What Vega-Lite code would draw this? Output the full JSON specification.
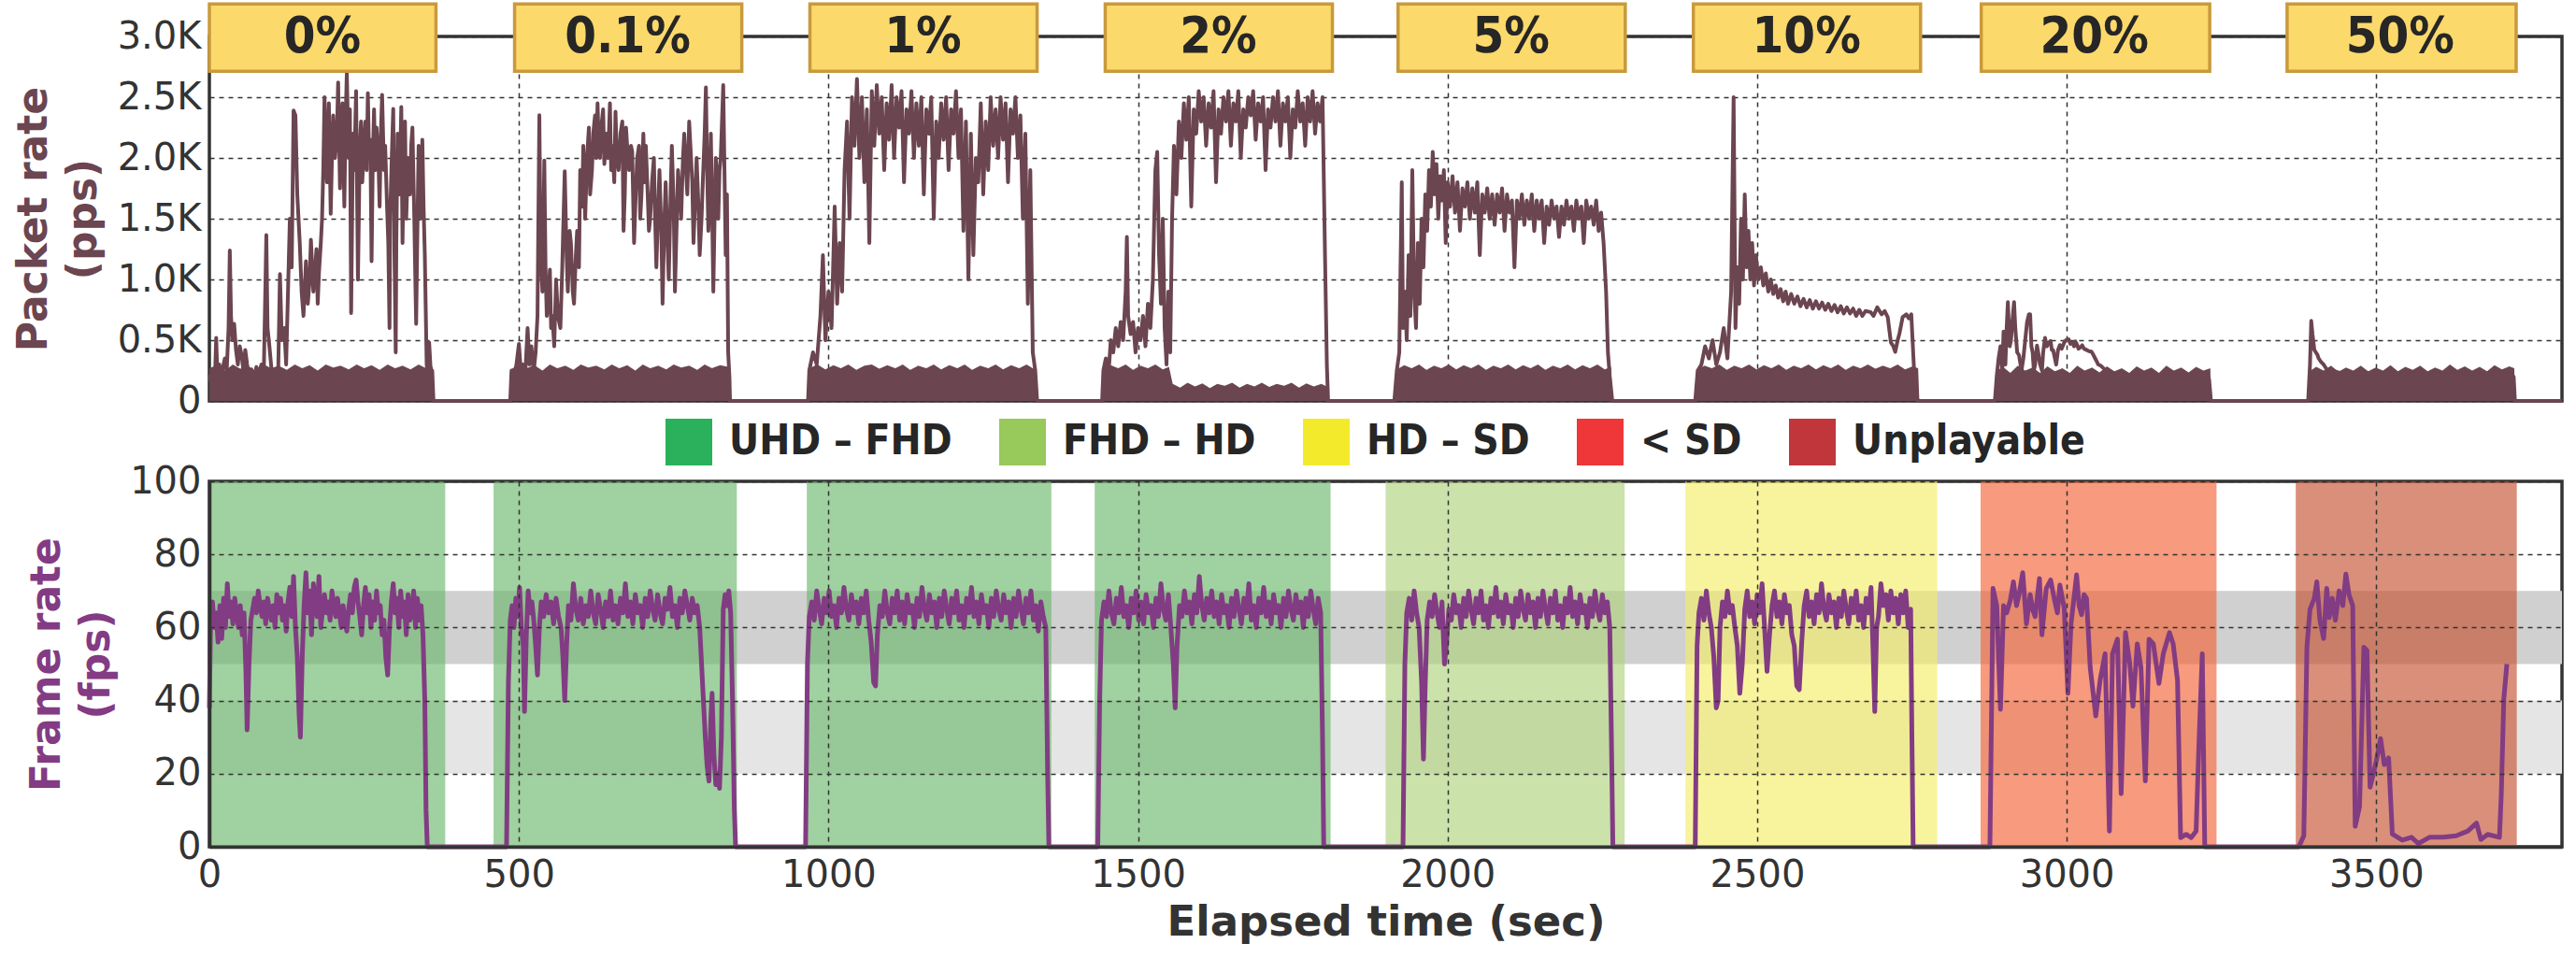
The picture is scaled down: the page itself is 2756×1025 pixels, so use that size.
{
"$schema":"https://vega.github.io/schema/vega-lite/v6.json",
"padding":{"left":12,"top":0,"right":5,"bottom":5},
"background":"white",
"config":{
"view":{"stroke":"#333333","strokeWidth":3.5},
"font":"DejaVu Sans",
"axis":{"labelFont":"DejaVu Sans","labelFontSize":40,"labelColor":"#333333","ticks":false,"domain":false,"gridColor":"#333333","gridDash":[5,5],"gridWidth":1.5,"gridOpacity":1,"titleFont":"DejaVu Sans","titleFontWeight":"bold","titleFontSize":44,"labelFlush":false,"labelOverlap":false}
},
"spacing":86,
"bounds":"flush",
"vconcat":[
{"width":2517,"height":390,
"layer":[
{"data":{"name":"lo"},"mark":{"type":"area","color":"#6b4550"},
"encoding":{"x":{"field":"t","type":"quantitative","scale":{"domain":[0,3800],"nice":false},"axis":{"values":[500,1000,1500,2000,2500,3000,3500],"labels":false,"title":null,"grid":true}},
"y":{"field":"v","type":"quantitative","scale":{"domain":[0,3000],"nice":false},"axis":{"values":[0,500,1000,1500,2000,2500,3000],"labelExpr":"datum.value == 0 ? '0' : format(datum.value/1000, '.1f') + 'K'","title":["Packet rate","(pps)"],"titleColor":"#6b4550","titleX":-188,"titleY":195,"titleAngle":-90,"titleAlign":"center","titleBaseline":"middle","titleLineHeight":53,"labelPadding":9,"grid":true}}}},
{"data":{"name":"hi"},"mark":{"type":"line","color":"#6b4550","strokeWidth":4,"strokeJoin":"round"},
"encoding":{"x":{"field":"t","type":"quantitative"},"y":{"field":"v","type":"quantitative"}}},
{"data":{"name":"box"},"mark":{"type":"rect","fill":"#fcd96b","stroke":"#c99a3c","strokeWidth":3.5},
"encoding":{"x":{"field":"a","type":"quantitative"},"x2":{"field":"b"},"y":{"datum":2713},"y2":{"datum":3267}}},
{"data":{"name":"box"},"mark":{"type":"text","font":"'Liberation Sans Narrow', 'DejaVu Sans Condensed', sans-serif","fontWeight":"bold","fontSize":54,"color":"#262626","dx":121,"baseline":"middle","align":"center"},
"encoding":{"x":{"field":"a","type":"quantitative"},"y":{"datum":2990},"text":{"field":"lbl"}}}
]},
{"width":2517,"height":391,
"layer":[
{"data":{"name":"band"},"transform":[{"filter":"datum.k == 'dark'"}],"mark":{"type":"rect","color":"#d0d0d0"},
"encoding":{"y":{"field":"y1","type":"quantitative","scale":{"domain":[0,100],"nice":false},"axis":{"values":[0,20,40,60,80,100],"title":["Frame rate","(fps)"],"titleColor":"#833b83","titleX":-174,"titleY":195.5,"titleAngle":-90,"titleAlign":"center","titleBaseline":"middle","titleLineHeight":53,"labelPadding":9,"grid":true,"zindex":1,"domain":true,"domainColor":"#333333","domainWidth":3.5}},
"y2":{"field":"y2"}}},
{"data":{"name":"band"},"transform":[{"filter":"datum.k == 'light'"}],"mark":{"type":"rect","color":"#e5e5e5"},
"encoding":{"y":{"field":"y1","type":"quantitative"},"y2":{"field":"y2"}}},
{"data":{"name":"q"},"mark":{"type":"rect","opacity":0.64},
"encoding":{"x":{"field":"a","type":"quantitative","scale":{"domain":[0,3800],"nice":false},"axis":{"values":[0,500,1000,1500,2000,2500,3000,3500],"format":"d","title":"Elapsed time (sec)","titleFontSize":45,"titleColor":"#333333","titlePadding":8,"labelPadding":10,"grid":true,"zindex":1,"domain":true,"domainColor":"#333333","domainWidth":3.5}},
"x2":{"field":"b"},
"fill":{"field":"q","type":"nominal","scale":{"domain":["Unplayable","< SD","HD – SD","FHD – HD","UHD – FHD"],"range":["#c4502f","#f36135","#f4ee67","#add27c","#6bb76b"]},"legend":null}}},
{"data":{"name":"q"},"mark":{"type":"rect","opacity":0},
"encoding":{"x":{"field":"a","type":"quantitative"},"x2":{"field":"b"},
"color":{"field":"q","type":"nominal","scale":{"domain":["UHD – FHD","FHD – HD","HD – SD","< SD","Unplayable"],"range":["#2bb15b","#98c95b","#f3ea2c","#ef3638","#c0363b"]},
"legend":{"orient":"none","legendX":488,"legendY":409,"direction":"horizontal","title":null,"symbolType":"square","symbolSize":2500,"symbolStrokeWidth":0,"symbolOpacity":1,"labelFont":"'Liberation Sans Narrow', 'DejaVu Sans Condensed', sans-serif","labelFontWeight":"bold","labelFontSize":44,"labelColor":"#262626","labelOffset":18,"columnPadding":50,"labelLimit":500}}}},
{"data":{"name":"fr"},"mark":{"type":"line","color":"#823c83","strokeWidth":5,"strokeJoin":"round"},
"encoding":{"x":{"field":"t","type":"quantitative"},"y":{"field":"v","type":"quantitative"}}}
]}
],
"datasets":{
"band":[{"y1":50,"y2":70,"k":"dark"},{"y1":20,"y2":40,"k":"light"}],
"q":[{"a":0,"b":381,"q":"UHD – FHD"},{"a":459,"b":852,"q":"UHD – FHD"},{"a":965,"b":1360,"q":"UHD – FHD"},{"a":1430,"b":1811,"q":"UHD – FHD"},{"a":1900,"b":2286,"q":"FHD – HD"},{"a":2384,"b":2791,"q":"HD – SD"},{"a":2861,"b":3242,"q":"< SD"},{"a":3370,"b":3727,"q":"Unplayable"}],
"box":[{"a":0,"b":366,"lbl":"0%"},{"a":493,"b":860,"lbl":"0.1%"},{"a":970,"b":1337,"lbl":"1%"},{"a":1447,"b":1814,"lbl":"2%"},{"a":1920,"b":2287,"lbl":"5%"},{"a":2397,"b":2764,"lbl":"10%"},{"a":2862,"b":3231,"lbl":"20%"},{"a":3356,"b":3726,"lbl":"50%"}],
"lo":[
{"t":0,"v":270},{"t":12,"v":295},{"t":25,"v":250},{"t":38,"v":300},{"t":50,"v":265},{"t":62,"v":290},{"t":75,"v":245},{"t":88,"v":300},{"t":100,"v":270},{"t":112,"v":290},{"t":125,"v":255},{"t":138,"v":300},{"t":150,"v":270},{"t":162,"v":295},{"t":175,"v":250},{"t":188,"v":300},{"t":200,"v":275},{"t":212,"v":290},{"t":225,"v":260},{"t":238,"v":300},{"t":250,"v":270},{"t":262,"v":295},{"t":275,"v":255},{"t":288,"v":300},{"t":300,"v":270},{"t":312,"v":290},{"t":325,"v":260},{"t":338,"v":300},{"t":350,"v":270},{"t":361,"v":280},{"t":362,"v":0},
{"t":486,"v":0},{"t":487,"v":260},{"t":500,"v":300},{"t":512,"v":270},{"t":525,"v":295},{"t":538,"v":250},{"t":550,"v":300},{"t":562,"v":270},{"t":575,"v":290},{"t":588,"v":255},{"t":600,"v":300},{"t":612,"v":275},{"t":625,"v":290},{"t":638,"v":260},{"t":650,"v":300},{"t":662,"v":270},{"t":675,"v":295},{"t":688,"v":250},{"t":700,"v":300},{"t":712,"v":270},{"t":725,"v":290},{"t":738,"v":260},{"t":750,"v":300},{"t":762,"v":275},{"t":775,"v":290},{"t":788,"v":255},{"t":800,"v":300},{"t":812,"v":270},{"t":825,"v":295},{"t":838,"v":280},{"t":840,"v":0},
{"t":968,"v":0},{"t":969,"v":270},{"t":982,"v":300},{"t":995,"v":260},{"t":1008,"v":295},{"t":1020,"v":270},{"t":1032,"v":300},{"t":1045,"v":255},{"t":1058,"v":290},{"t":1070,"v":300},{"t":1082,"v":265},{"t":1095,"v":295},{"t":1108,"v":270},{"t":1120,"v":300},{"t":1132,"v":255},{"t":1145,"v":290},{"t":1158,"v":270},{"t":1170,"v":300},{"t":1182,"v":260},{"t":1195,"v":295},{"t":1208,"v":270},{"t":1220,"v":300},{"t":1232,"v":255},{"t":1245,"v":290},{"t":1258,"v":270},{"t":1270,"v":300},{"t":1282,"v":260},{"t":1295,"v":295},{"t":1308,"v":270},{"t":1320,"v":300},{"t":1333,"v":260},{"t":1336,"v":0},
{"t":1443,"v":0},{"t":1444,"v":260},{"t":1456,"v":295},{"t":1468,"v":270},{"t":1480,"v":300},{"t":1492,"v":255},{"t":1504,"v":290},{"t":1516,"v":270},{"t":1528,"v":300},{"t":1540,"v":260},{"t":1550,"v":280},{"t":1556,"v":140},{"t":1568,"v":110},{"t":1580,"v":150},{"t":1592,"v":120},{"t":1604,"v":145},{"t":1616,"v":105},{"t":1628,"v":140},{"t":1640,"v":125},{"t":1652,"v":150},{"t":1664,"v":110},{"t":1676,"v":140},{"t":1688,"v":120},{"t":1700,"v":150},{"t":1712,"v":115},{"t":1724,"v":140},{"t":1736,"v":125},{"t":1748,"v":150},{"t":1760,"v":110},{"t":1772,"v":145},{"t":1784,"v":120},{"t":1796,"v":140},{"t":1805,"v":120},{"t":1806,"v":0},
{"t":1917,"v":0},{"t":1918,"v":260},{"t":1930,"v":295},{"t":1942,"v":270},{"t":1954,"v":300},{"t":1966,"v":255},{"t":1978,"v":290},{"t":1990,"v":270},{"t":2002,"v":300},{"t":2014,"v":260},{"t":2026,"v":295},{"t":2038,"v":270},{"t":2050,"v":300},{"t":2062,"v":255},{"t":2074,"v":290},{"t":2086,"v":270},{"t":2098,"v":300},{"t":2110,"v":260},{"t":2122,"v":295},{"t":2134,"v":270},{"t":2146,"v":300},{"t":2158,"v":255},{"t":2170,"v":290},{"t":2182,"v":270},{"t":2194,"v":300},{"t":2206,"v":260},{"t":2218,"v":295},{"t":2230,"v":270},{"t":2242,"v":300},{"t":2254,"v":260},{"t":2264,"v":280},{"t":2266,"v":0},
{"t":2402,"v":0},{"t":2403,"v":260},{"t":2415,"v":290},{"t":2427,"v":270},{"t":2439,"v":300},{"t":2451,"v":255},{"t":2463,"v":290},{"t":2475,"v":270},{"t":2487,"v":300},{"t":2499,"v":260},{"t":2511,"v":295},{"t":2523,"v":270},{"t":2535,"v":300},{"t":2547,"v":255},{"t":2559,"v":290},{"t":2571,"v":270},{"t":2583,"v":300},{"t":2595,"v":260},{"t":2607,"v":295},{"t":2619,"v":270},{"t":2631,"v":300},{"t":2643,"v":255},{"t":2655,"v":290},{"t":2667,"v":270},{"t":2679,"v":300},{"t":2691,"v":265},{"t":2703,"v":290},{"t":2715,"v":270},{"t":2727,"v":300},{"t":2739,"v":260},{"t":2751,"v":285},{"t":2760,"v":270},{"t":2762,"v":0},
{"t":2884,"v":0},{"t":2885,"v":240},{"t":2897,"v":280},{"t":2909,"v":230},{"t":2921,"v":290},{"t":2933,"v":250},{"t":2945,"v":275},{"t":2957,"v":230},{"t":2969,"v":285},{"t":2981,"v":245},{"t":2993,"v":270},{"t":3005,"v":230},{"t":3017,"v":290},{"t":3029,"v":250},{"t":3041,"v":275},{"t":3053,"v":235},{"t":3065,"v":285},{"t":3077,"v":245},{"t":3089,"v":270},{"t":3101,"v":230},{"t":3113,"v":285},{"t":3125,"v":250},{"t":3137,"v":275},{"t":3149,"v":230},{"t":3161,"v":290},{"t":3173,"v":250},{"t":3185,"v":275},{"t":3197,"v":235},{"t":3209,"v":280},{"t":3221,"v":250},{"t":3232,"v":270},{"t":3233,"v":0},
{"t":3390,"v":0},{"t":3391,"v":240},{"t":3403,"v":280},{"t":3415,"v":250},{"t":3427,"v":290},{"t":3439,"v":240},{"t":3451,"v":275},{"t":3463,"v":250},{"t":3475,"v":290},{"t":3487,"v":245},{"t":3499,"v":275},{"t":3511,"v":250},{"t":3523,"v":295},{"t":3535,"v":245},{"t":3547,"v":280},{"t":3559,"v":255},{"t":3571,"v":290},{"t":3583,"v":245},{"t":3595,"v":275},{"t":3607,"v":250},{"t":3619,"v":300},{"t":3631,"v":255},{"t":3643,"v":285},{"t":3655,"v":250},{"t":3667,"v":280},{"t":3679,"v":245},{"t":3691,"v":295},{"t":3703,"v":260},{"t":3715,"v":285},{"t":3723,"v":270},{"t":3724,"v":0}
],
"hi":[
{"t":0,"v":220},{"t":3,"v":150},{"t":6,"v":260},{"t":9,"v":180},{"t":11,"v":519},{"t":13,"v":200},{"t":16,"v":300},{"t":19,"v":150},{"t":22,"v":280},{"t":25,"v":350},{"t":28,"v":250},{"t":31,"v":600},{"t":33,"v":1238},{"t":35,"v":700},{"t":37,"v":500},{"t":40,"v":635},{"t":43,"v":420},{"t":46,"v":300},{"t":49,"v":450},{"t":52,"v":380},{"t":55,"v":250},{"t":58,"v":420},{"t":61,"v":300},{"t":64,"v":200},{"t":68,"v":260},{"t":72,"v":180},{"t":76,"v":280},{"t":80,"v":220},{"t":84,"v":300},{"t":88,"v":250},{"t":92,"v":1365},{"t":94,"v":600},{"t":97,"v":450},{"t":100,"v":280},{"t":104,"v":200},{"t":108,"v":260},{"t":111,"v":180},{"t":114,"v":1044},{"t":117,"v":500},{"t":121,"v":600},{"t":124,"v":300},{"t":127,"v":900},{"t":130,"v":1500},{"t":133,"v":1100},{"t":136,"v":2390},{"t":139,"v":2350},{"t":142,"v":1700},{"t":146,"v":1300},{"t":149,"v":900},{"t":152,"v":700},{"t":156,"v":1150},{"t":159,"v":800},{"t":162,"v":1000},{"t":164,"v":1327},{"t":168,"v":900},{"t":171,"v":1100},{"t":173,"v":1250},{"t":175,"v":800},{"t":177,"v":1050},{"t":180,"v":1300},{"t":182,"v":1500},{"t":184,"v":1900},{"t":186,"v":2500},{"t":188,"v":2100},{"t":190,"v":1800},{"t":193,"v":2450},{"t":196,"v":1540},{"t":198,"v":2000},{"t":200,"v":2350},{"t":203,"v":2000},{"t":206,"v":2200},{"t":208,"v":2622},{"t":211,"v":1750},{"t":213,"v":2300},{"t":215,"v":2450},{"t":218,"v":1600},{"t":220,"v":2300},{"t":222,"v":2698},{"t":225,"v":2000},{"t":227,"v":2400},{"t":229,"v":724},{"t":232,"v":2200},{"t":234,"v":1900},{"t":237,"v":2550},{"t":240,"v":998},{"t":243,"v":2100},{"t":245,"v":2300},{"t":247,"v":1800},{"t":249,"v":2050},{"t":252,"v":2300},{"t":254,"v":1900},{"t":256,"v":2532},{"t":258,"v":2000},{"t":260,"v":2150},{"t":262,"v":1150},{"t":264,"v":2000},{"t":266,"v":2400},{"t":268,"v":1900},{"t":270,"v":2250},{"t":273,"v":2000},{"t":275,"v":1600},{"t":277,"v":2200},{"t":279,"v":2520},{"t":282,"v":1900},{"t":284,"v":2100},{"t":287,"v":1600},{"t":289,"v":1300},{"t":291,"v":600},{"t":292,"v":1500},{"t":294,"v":1900},{"t":297,"v":2403},{"t":299,"v":1200},{"t":301,"v":400},{"t":302,"v":1300},{"t":304,"v":2200},{"t":307,"v":1700},{"t":310,"v":2420},{"t":312,"v":1300},{"t":314,"v":2000},{"t":316,"v":2300},{"t":318,"v":1500},{"t":321,"v":2000},{"t":324,"v":1700},{"t":326,"v":2100},{"t":328,"v":2250},{"t":331,"v":1500},{"t":333,"v":900},{"t":334,"v":635},{"t":336,"v":1400},{"t":338,"v":2100},{"t":340,"v":1800},{"t":341,"v":1500},{"t":343,"v":1900},{"t":344,"v":2150},{"t":346,"v":1600},{"t":348,"v":1200},{"t":350,"v":600},{"t":351,"v":300},{"t":353,"v":200},{"t":355,"v":481},{"t":358,"v":200},{"t":360,"v":250},{"t":362,"v":0},
{"t":486,"v":0},{"t":488,"v":250},{"t":492,"v":200},{"t":496,"v":300},{"t":500,"v":469},{"t":503,"v":250},{"t":506,"v":300},{"t":510,"v":200},{"t":514,"v":600},{"t":517,"v":300},{"t":520,"v":450},{"t":524,"v":250},{"t":527,"v":400},{"t":530,"v":700},{"t":533,"v":2351},{"t":535,"v":1200},{"t":538,"v":900},{"t":541,"v":1978},{"t":543,"v":1100},{"t":545,"v":700},{"t":547,"v":800},{"t":550,"v":1080},{"t":552,"v":600},{"t":554,"v":700},{"t":557,"v":450},{"t":560,"v":1000},{"t":563,"v":700},{"t":567,"v":600},{"t":570,"v":1100},{"t":574,"v":1891},{"t":577,"v":1200},{"t":579,"v":900},{"t":582,"v":1400},{"t":584,"v":1300},{"t":587,"v":900},{"t":589,"v":800},{"t":592,"v":1200},{"t":594,"v":1400},{"t":597,"v":1100},{"t":599,"v":1900},{"t":602,"v":1600},{"t":604,"v":2100},{"t":607,"v":1500},{"t":610,"v":2000},{"t":613,"v":2250},{"t":615,"v":1700},{"t":618,"v":1900},{"t":620,"v":2200},{"t":623,"v":2350},{"t":625,"v":2000},{"t":627,"v":2450},{"t":629,"v":2100},{"t":631,"v":2000},{"t":634,"v":2300},{"t":636,"v":2400},{"t":638,"v":1950},{"t":641,"v":2200},{"t":644,"v":2000},{"t":647,"v":2450},{"t":649,"v":1900},{"t":651,"v":2100},{"t":654,"v":1800},{"t":656,"v":2380},{"t":658,"v":2000},{"t":661,"v":1900},{"t":664,"v":2200},{"t":667,"v":2300},{"t":669,"v":1400},{"t":671,"v":1700},{"t":673,"v":2250},{"t":676,"v":2000},{"t":678,"v":1900},{"t":681,"v":2100},{"t":683,"v":2050},{"t":686,"v":1300},{"t":688,"v":1600},{"t":691,"v":2000},{"t":694,"v":2100},{"t":696,"v":1500},{"t":698,"v":1700},{"t":701,"v":2200},{"t":703,"v":1800},{"t":705,"v":2100},{"t":708,"v":1700},{"t":710,"v":1400},{"t":712,"v":1500},{"t":715,"v":1800},{"t":718,"v":2000},{"t":720,"v":1500},{"t":722,"v":1100},{"t":725,"v":1600},{"t":727,"v":1900},{"t":730,"v":1400},{"t":732,"v":800},{"t":735,"v":1500},{"t":737,"v":1800},{"t":740,"v":1300},{"t":742,"v":1000},{"t":745,"v":1700},{"t":747,"v":2100},{"t":750,"v":1600},{"t":752,"v":900},{"t":755,"v":1500},{"t":757,"v":1900},{"t":760,"v":1700},{"t":762,"v":1500},{"t":765,"v":2000},{"t":767,"v":2200},{"t":770,"v":1900},{"t":772,"v":1700},{"t":775,"v":2300},{"t":777,"v":2100},{"t":780,"v":1800},{"t":782,"v":1300},{"t":785,"v":1700},{"t":787,"v":2000},{"t":790,"v":1600},{"t":792,"v":1200},{"t":795,"v":1500},{"t":797,"v":1800},{"t":800,"v":2200},{"t":802,"v":2580},{"t":804,"v":1900},{"t":806,"v":1400},{"t":808,"v":1700},{"t":810,"v":2200},{"t":812,"v":1600},{"t":814,"v":900},{"t":816,"v":1500},{"t":818,"v":2000},{"t":820,"v":1800},{"t":822,"v":1500},{"t":824,"v":1900},{"t":826,"v":2000},{"t":828,"v":2300},{"t":830,"v":2600},{"t":832,"v":1900},{"t":834,"v":1200},{"t":836,"v":1700},{"t":838,"v":400},{"t":840,"v":200},{"t":841,"v":0},
{"t":967,"v":0},{"t":969,"v":250},{"t":975,"v":400},{"t":981,"v":300},{"t":987,"v":700},{"t":991,"v":1200},{"t":995,"v":500},{"t":1000,"v":900},{"t":1005,"v":600},{"t":1010,"v":1600},{"t":1014,"v":800},{"t":1018,"v":1300},{"t":1022,"v":900},{"t":1026,"v":1900},{"t":1030,"v":2300},{"t":1034,"v":1500},{"t":1038,"v":2500},{"t":1042,"v":2100},{"t":1046,"v":2650},{"t":1050,"v":2000},{"t":1054,"v":2500},{"t":1058,"v":1800},{"t":1062,"v":2400},{"t":1066,"v":1300},{"t":1070,"v":2550},{"t":1074,"v":2100},{"t":1078,"v":2600},{"t":1082,"v":2200},{"t":1086,"v":2500},{"t":1090,"v":1900},{"t":1094,"v":2450},{"t":1098,"v":2150},{"t":1102,"v":2600},{"t":1106,"v":2000},{"t":1110,"v":2500},{"t":1114,"v":2250},{"t":1118,"v":2550},{"t":1122,"v":1800},{"t":1126,"v":2400},{"t":1130,"v":2200},{"t":1134,"v":2550},{"t":1138,"v":2000},{"t":1142,"v":2450},{"t":1146,"v":2100},{"t":1150,"v":2500},{"t":1154,"v":1700},{"t":1158,"v":2400},{"t":1162,"v":2200},{"t":1166,"v":2500},{"t":1170,"v":1500},{"t":1174,"v":2300},{"t":1178,"v":2000},{"t":1182,"v":2450},{"t":1186,"v":2150},{"t":1190,"v":2500},{"t":1194,"v":1900},{"t":1198,"v":2400},{"t":1202,"v":2200},{"t":1206,"v":2550},{"t":1210,"v":2000},{"t":1214,"v":2400},{"t":1218,"v":1400},{"t":1222,"v":2300},{"t":1226,"v":1000},{"t":1230,"v":2200},{"t":1234,"v":1200},{"t":1238,"v":2000},{"t":1242,"v":1800},{"t":1246,"v":2450},{"t":1250,"v":1700},{"t":1254,"v":2300},{"t":1258,"v":1900},{"t":1262,"v":2500},{"t":1266,"v":2100},{"t":1270,"v":2400},{"t":1274,"v":2000},{"t":1278,"v":2500},{"t":1282,"v":2150},{"t":1286,"v":2450},{"t":1290,"v":1800},{"t":1294,"v":2400},{"t":1298,"v":2200},{"t":1302,"v":2500},{"t":1306,"v":2000},{"t":1310,"v":2350},{"t":1314,"v":1500},{"t":1318,"v":2200},{"t":1322,"v":800},{"t":1326,"v":1900},{"t":1330,"v":400},{"t":1334,"v":250},{"t":1337,"v":0},
{"t":1442,"v":0},{"t":1444,"v":250},{"t":1448,"v":350},{"t":1452,"v":200},{"t":1456,"v":500},{"t":1460,"v":400},{"t":1464,"v":600},{"t":1468,"v":450},{"t":1472,"v":650},{"t":1476,"v":500},{"t":1480,"v":900},{"t":1482,"v":1350},{"t":1484,"v":700},{"t":1488,"v":550},{"t":1492,"v":650},{"t":1496,"v":400},{"t":1500,"v":600},{"t":1504,"v":500},{"t":1508,"v":700},{"t":1512,"v":450},{"t":1516,"v":800},{"t":1520,"v":600},{"t":1524,"v":1000},{"t":1528,"v":1900},{"t":1531,"v":2050},{"t":1534,"v":1200},{"t":1537,"v":800},{"t":1540,"v":1500},{"t":1543,"v":600},{"t":1546,"v":300},{"t":1549,"v":900},{"t":1552,"v":400},{"t":1555,"v":1500},{"t":1558,"v":2100},{"t":1562,"v":1700},{"t":1566,"v":2300},{"t":1570,"v":2000},{"t":1574,"v":2450},{"t":1578,"v":2150},{"t":1582,"v":2500},{"t":1586,"v":1600},{"t":1590,"v":2400},{"t":1594,"v":2200},{"t":1598,"v":2550},{"t":1602,"v":2300},{"t":1606,"v":2500},{"t":1610,"v":2100},{"t":1614,"v":2450},{"t":1618,"v":2250},{"t":1622,"v":2550},{"t":1626,"v":1800},{"t":1630,"v":2400},{"t":1634,"v":2200},{"t":1638,"v":2500},{"t":1642,"v":2300},{"t":1646,"v":2550},{"t":1650,"v":2100},{"t":1654,"v":2450},{"t":1658,"v":2300},{"t":1662,"v":2550},{"t":1666,"v":2000},{"t":1670,"v":2400},{"t":1674,"v":2250},{"t":1678,"v":2500},{"t":1682,"v":2350},{"t":1686,"v":2550},{"t":1690,"v":2150},{"t":1694,"v":2450},{"t":1698,"v":2300},{"t":1702,"v":2500},{"t":1706,"v":1900},{"t":1710,"v":2400},{"t":1714,"v":2250},{"t":1718,"v":2500},{"t":1722,"v":2300},{"t":1726,"v":2550},{"t":1730,"v":2100},{"t":1734,"v":2450},{"t":1738,"v":2300},{"t":1742,"v":2500},{"t":1746,"v":2000},{"t":1750,"v":2400},{"t":1754,"v":2250},{"t":1758,"v":2550},{"t":1762,"v":2300},{"t":1766,"v":2450},{"t":1770,"v":2100},{"t":1774,"v":2500},{"t":1778,"v":2300},{"t":1782,"v":2550},{"t":1786,"v":2200},{"t":1790,"v":2450},{"t":1794,"v":2300},{"t":1798,"v":2500},{"t":1802,"v":1200},{"t":1805,"v":300},{"t":1807,"v":0},
{"t":1914,"v":0},{"t":1918,"v":250},{"t":1922,"v":400},{"t":1926,"v":1800},{"t":1928,"v":600},{"t":1931,"v":900},{"t":1934,"v":500},{"t":1937,"v":1200},{"t":1940,"v":700},{"t":1943,"v":1900},{"t":1946,"v":900},{"t":1949,"v":600},{"t":1952,"v":1300},{"t":1955,"v":800},{"t":1958,"v":1500},{"t":1961,"v":1100},{"t":1964,"v":1700},{"t":1967,"v":1400},{"t":1970,"v":1900},{"t":1973,"v":1600},{"t":1976,"v":2050},{"t":1979,"v":1700},{"t":1982,"v":1950},{"t":1985,"v":1500},{"t":1988,"v":1850},{"t":1991,"v":1650},{"t":1994,"v":1900},{"t":1997,"v":1300},{"t":2000,"v":1800},{"t":2004,"v":1600},{"t":2008,"v":1850},{"t":2012,"v":1550},{"t":2016,"v":1800},{"t":2020,"v":1400},{"t":2024,"v":1750},{"t":2028,"v":1600},{"t":2032,"v":1800},{"t":2036,"v":1500},{"t":2040,"v":1750},{"t":2044,"v":1550},{"t":2048,"v":1800},{"t":2052,"v":1200},{"t":2056,"v":1700},{"t":2060,"v":1550},{"t":2064,"v":1750},{"t":2068,"v":1500},{"t":2072,"v":1700},{"t":2076,"v":1450},{"t":2080,"v":1700},{"t":2084,"v":1550},{"t":2088,"v":1750},{"t":2092,"v":1400},{"t":2096,"v":1700},{"t":2100,"v":1550},{"t":2104,"v":1650},{"t":2108,"v":1100},{"t":2112,"v":1650},{"t":2116,"v":1500},{"t":2120,"v":1700},{"t":2124,"v":1450},{"t":2128,"v":1650},{"t":2132,"v":1500},{"t":2136,"v":1700},{"t":2140,"v":1400},{"t":2144,"v":1650},{"t":2148,"v":1500},{"t":2152,"v":1650},{"t":2156,"v":1300},{"t":2160,"v":1600},{"t":2164,"v":1450},{"t":2168,"v":1650},{"t":2172,"v":1500},{"t":2176,"v":1600},{"t":2180,"v":1350},{"t":2184,"v":1600},{"t":2188,"v":1450},{"t":2192,"v":1650},{"t":2196,"v":1500},{"t":2200,"v":1600},{"t":2204,"v":1400},{"t":2208,"v":1650},{"t":2212,"v":1500},{"t":2216,"v":1600},{"t":2220,"v":1300},{"t":2224,"v":1650},{"t":2228,"v":1500},{"t":2232,"v":1600},{"t":2236,"v":1450},{"t":2240,"v":1650},{"t":2244,"v":1400},{"t":2248,"v":1550},{"t":2252,"v":1300},{"t":2256,"v":900},{"t":2259,"v":400},{"t":2262,"v":200},{"t":2266,"v":0},
{"t":2400,"v":0},{"t":2404,"v":250},{"t":2410,"v":300},{"t":2416,"v":450},{"t":2422,"v":350},{"t":2428,"v":500},{"t":2434,"v":300},{"t":2440,"v":400},{"t":2446,"v":600},{"t":2452,"v":350},{"t":2458,"v":900},{"t":2462,"v":2500},{"t":2465,"v":600},{"t":2468,"v":1100},{"t":2471,"v":800},{"t":2474,"v":1500},{"t":2477,"v":1000},{"t":2480,"v":1700},{"t":2483,"v":1100},{"t":2486,"v":1400},{"t":2489,"v":1000},{"t":2492,"v":1300},{"t":2495,"v":950},{"t":2498,"v":1200},{"t":2502,"v":1000},{"t":2506,"v":1100},{"t":2510,"v":950},{"t":2514,"v":1050},{"t":2518,"v":900},{"t":2522,"v":1000},{"t":2526,"v":880},{"t":2530,"v":950},{"t":2534,"v":850},{"t":2538,"v":920},{"t":2542,"v":820},{"t":2546,"v":900},{"t":2550,"v":800},{"t":2555,"v":880},{"t":2560,"v":800},{"t":2565,"v":860},{"t":2570,"v":780},{"t":2575,"v":840},{"t":2580,"v":770},{"t":2585,"v":830},{"t":2590,"v":760},{"t":2595,"v":820},{"t":2600,"v":760},{"t":2605,"v":810},{"t":2610,"v":750},{"t":2615,"v":800},{"t":2620,"v":740},{"t":2625,"v":790},{"t":2630,"v":730},{"t":2635,"v":780},{"t":2640,"v":720},{"t":2645,"v":770},{"t":2650,"v":720},{"t":2655,"v":760},{"t":2660,"v":700},{"t":2665,"v":750},{"t":2670,"v":700},{"t":2675,"v":740},{"t":2683,"v":732},{"t":2688,"v":700},{"t":2694,"v":770},{"t":2701,"v":713},{"t":2706,"v":740},{"t":2711,"v":689},{"t":2716,"v":482},{"t":2720,"v":450},{"t":2723,"v":404},{"t":2727,"v":500},{"t":2730,"v":558},{"t":2735,"v":689},{"t":2741,"v":713},{"t":2745,"v":680},{"t":2749,"v":713},{"t":2753,"v":300},{"t":2756,"v":50},{"t":2760,"v":0},
{"t":2884,"v":0},{"t":2887,"v":200},{"t":2890,"v":350},{"t":2893,"v":450},{"t":2896,"v":250},{"t":2898,"v":571},{"t":2901,"v":300},{"t":2903,"v":600},{"t":2905,"v":814},{"t":2908,"v":450},{"t":2910,"v":500},{"t":2913,"v":700},{"t":2915,"v":814},{"t":2917,"v":600},{"t":2920,"v":400},{"t":2923,"v":377},{"t":2927,"v":250},{"t":2930,"v":350},{"t":2933,"v":500},{"t":2936,"v":650},{"t":2939,"v":713},{"t":2941,"v":713},{"t":2943,"v":450},{"t":2945,"v":400},{"t":2947,"v":250},{"t":2949,"v":300},{"t":2952,"v":456},{"t":2954,"v":400},{"t":2957,"v":300},{"t":2960,"v":250},{"t":2962,"v":400},{"t":2965,"v":519},{"t":2968,"v":450},{"t":2971,"v":480},{"t":2974,"v":494},{"t":2976,"v":420},{"t":2978,"v":420},{"t":2981,"v":350},{"t":2983,"v":300},{"t":2986,"v":420},{"t":2989,"v":460},{"t":2992,"v":430},{"t":2996,"v":480},{"t":2999,"v":500},{"t":3003,"v":507},{"t":3006,"v":470},{"t":3009,"v":480},{"t":3012,"v":450},{"t":3014,"v":490},{"t":3017,"v":460},{"t":3019,"v":430},{"t":3022,"v":440},{"t":3025,"v":458},{"t":3028,"v":430},{"t":3032,"v":420},{"t":3036,"v":410},{"t":3040,"v":406},{"t":3043,"v":380},{"t":3046,"v":350},{"t":3049,"v":320},{"t":3051,"v":300},{"t":3055,"v":290},{"t":3058,"v":276},{"t":3070,"v":220},{"t":3100,"v":200},{"t":3150,"v":210},{"t":3200,"v":200},{"t":3230,"v":180},{"t":3233,"v":0},
{"t":3390,"v":0},{"t":3393,"v":300},{"t":3395,"v":659},{"t":3397,"v":550},{"t":3400,"v":420},{"t":3402,"v":404},{"t":3405,"v":380},{"t":3407,"v":350},{"t":3411,"v":320},{"t":3415,"v":300},{"t":3420,"v":260},{"t":3450,"v":220},{"t":3500,"v":230},{"t":3600,"v":220},{"t":3700,"v":230},{"t":3722,"v":200},{"t":3724,"v":0},{"t":3800,"v":0}
],
"fr":[
{"t":0,"v":38},{"t":2,"v":62},{"t":5,"v":67},{"t":8,"v":60},{"t":11,"v":64},{"t":14,"v":56},{"t":17,"v":66},{"t":20,"v":57},{"t":23,"v":68},{"t":26,"v":60},{"t":29,"v":72},{"t":32,"v":63},{"t":35,"v":67},{"t":38,"v":61},{"t":41,"v":68},{"t":44,"v":64},{"t":47,"v":60},{"t":50,"v":66},{"t":53,"v":58},{"t":56,"v":64},{"t":59,"v":48},{"t":61,"v":32},{"t":64,"v":50},{"t":67,"v":62},{"t":70,"v":65},{"t":73,"v":68},{"t":76,"v":64},{"t":79,"v":70},{"t":82,"v":66},{"t":85,"v":63},{"t":88,"v":67},{"t":91,"v":61},{"t":94,"v":68},{"t":97,"v":65},{"t":100,"v":62},{"t":103,"v":66},{"t":106,"v":60},{"t":109,"v":69},{"t":112,"v":64},{"t":115,"v":68},{"t":118,"v":62},{"t":121,"v":66},{"t":124,"v":59},{"t":127,"v":67},{"t":130,"v":71},{"t":133,"v":63},{"t":136,"v":74},{"t":139,"v":60},{"t":142,"v":52},{"t":145,"v":36},{"t":147,"v":30},{"t":150,"v":52},{"t":153,"v":66},{"t":156,"v":75},{"t":159,"v":64},{"t":162,"v":70},{"t":165,"v":58},{"t":168,"v":72},{"t":171,"v":67},{"t":174,"v":63},{"t":177,"v":74},{"t":180,"v":60},{"t":183,"v":65},{"t":186,"v":69},{"t":189,"v":64},{"t":192,"v":67},{"t":195,"v":62},{"t":198,"v":70},{"t":201,"v":66},{"t":204,"v":63},{"t":207,"v":68},{"t":210,"v":64},{"t":213,"v":60},{"t":216,"v":66},{"t":219,"v":62},{"t":222,"v":59},{"t":225,"v":65},{"t":228,"v":69},{"t":231,"v":64},{"t":234,"v":71},{"t":237,"v":73},{"t":240,"v":67},{"t":243,"v":63},{"t":246,"v":58},{"t":249,"v":66},{"t":252,"v":71},{"t":255,"v":64},{"t":258,"v":69},{"t":261,"v":60},{"t":264,"v":67},{"t":267,"v":62},{"t":270,"v":70},{"t":273,"v":64},{"t":276,"v":66},{"t":279,"v":58},{"t":282,"v":62},{"t":285,"v":52},{"t":288,"v":47},{"t":291,"v":60},{"t":294,"v":67},{"t":297,"v":72},{"t":300,"v":64},{"t":303,"v":68},{"t":306,"v":60},{"t":309,"v":70},{"t":312,"v":63},{"t":315,"v":67},{"t":318,"v":58},{"t":321,"v":69},{"t":324,"v":62},{"t":327,"v":64},{"t":330,"v":70},{"t":333,"v":60},{"t":336,"v":68},{"t":339,"v":62},{"t":342,"v":66},{"t":345,"v":58},{"t":348,"v":40},{"t":350,"v":10},{"t":352,"v":0},
{"t":480,"v":0},{"t":483,"v":45},{"t":486,"v":62},{"t":489,"v":66},{"t":492,"v":60},{"t":495,"v":68},{"t":498,"v":63},{"t":501,"v":71},{"t":504,"v":60},{"t":507,"v":55},{"t":509,"v":37},{"t":512,"v":58},{"t":515,"v":70},{"t":518,"v":64},{"t":521,"v":67},{"t":524,"v":62},{"t":527,"v":55},{"t":530,"v":47},{"t":533,"v":60},{"t":536,"v":67},{"t":540,"v":63},{"t":544,"v":69},{"t":548,"v":64},{"t":552,"v":67},{"t":556,"v":61},{"t":560,"v":68},{"t":564,"v":63},{"t":568,"v":60},{"t":571,"v":52},{"t":574,"v":40},{"t":577,"v":55},{"t":580,"v":66},{"t":584,"v":62},{"t":588,"v":72},{"t":592,"v":65},{"t":596,"v":62},{"t":600,"v":68},{"t":604,"v":61},{"t":608,"v":66},{"t":612,"v":63},{"t":616,"v":70},{"t":620,"v":64},{"t":624,"v":61},{"t":628,"v":69},{"t":632,"v":65},{"t":636,"v":60},{"t":640,"v":67},{"t":644,"v":63},{"t":648,"v":70},{"t":652,"v":62},{"t":656,"v":66},{"t":660,"v":61},{"t":664,"v":68},{"t":668,"v":64},{"t":672,"v":72},{"t":676,"v":63},{"t":680,"v":67},{"t":684,"v":61},{"t":688,"v":69},{"t":692,"v":64},{"t":696,"v":66},{"t":700,"v":60},{"t":704,"v":68},{"t":708,"v":63},{"t":712,"v":70},{"t":716,"v":65},{"t":720,"v":62},{"t":724,"v":69},{"t":728,"v":64},{"t":732,"v":61},{"t":736,"v":68},{"t":740,"v":65},{"t":744,"v":71},{"t":748,"v":63},{"t":752,"v":66},{"t":756,"v":60},{"t":760,"v":68},{"t":764,"v":64},{"t":768,"v":70},{"t":772,"v":66},{"t":776,"v":62},{"t":780,"v":68},{"t":784,"v":64},{"t":788,"v":66},{"t":792,"v":60},{"t":795,"v":50},{"t":798,"v":40},{"t":801,"v":30},{"t":804,"v":22},{"t":807,"v":18},{"t":810,"v":35},{"t":812,"v":42},{"t":815,"v":25},{"t":818,"v":17},{"t":821,"v":20},{"t":824,"v":16},{"t":827,"v":30},{"t":830,"v":65},{"t":833,"v":69},{"t":836,"v":66},{"t":839,"v":70},{"t":842,"v":64},{"t":845,"v":40},{"t":848,"v":10},{"t":850,"v":0},
{"t":963,"v":0},{"t":966,"v":50},{"t":969,"v":63},{"t":973,"v":67},{"t":977,"v":62},{"t":981,"v":70},{"t":985,"v":65},{"t":989,"v":61},{"t":993,"v":68},{"t":997,"v":64},{"t":1001,"v":70},{"t":1005,"v":63},{"t":1009,"v":66},{"t":1013,"v":60},{"t":1017,"v":68},{"t":1021,"v":64},{"t":1025,"v":71},{"t":1029,"v":65},{"t":1033,"v":62},{"t":1037,"v":69},{"t":1041,"v":64},{"t":1045,"v":67},{"t":1049,"v":61},{"t":1053,"v":68},{"t":1057,"v":64},{"t":1061,"v":70},{"t":1065,"v":62},{"t":1069,"v":56},{"t":1073,"v":45},{"t":1076,"v":44},{"t":1079,"v":58},{"t":1083,"v":66},{"t":1087,"v":63},{"t":1091,"v":70},{"t":1095,"v":64},{"t":1099,"v":61},{"t":1103,"v":68},{"t":1107,"v":64},{"t":1111,"v":70},{"t":1115,"v":62},{"t":1119,"v":67},{"t":1123,"v":61},{"t":1127,"v":69},{"t":1131,"v":64},{"t":1135,"v":66},{"t":1139,"v":60},{"t":1143,"v":68},{"t":1147,"v":63},{"t":1151,"v":71},{"t":1155,"v":65},{"t":1159,"v":62},{"t":1163,"v":69},{"t":1167,"v":64},{"t":1171,"v":67},{"t":1175,"v":60},{"t":1179,"v":68},{"t":1183,"v":63},{"t":1187,"v":70},{"t":1191,"v":65},{"t":1195,"v":61},{"t":1199,"v":68},{"t":1203,"v":64},{"t":1207,"v":70},{"t":1211,"v":62},{"t":1215,"v":66},{"t":1219,"v":60},{"t":1223,"v":68},{"t":1227,"v":64},{"t":1231,"v":71},{"t":1235,"v":63},{"t":1239,"v":67},{"t":1243,"v":61},{"t":1247,"v":69},{"t":1251,"v":64},{"t":1255,"v":66},{"t":1259,"v":60},{"t":1263,"v":68},{"t":1267,"v":63},{"t":1271,"v":70},{"t":1275,"v":65},{"t":1279,"v":62},{"t":1283,"v":69},{"t":1287,"v":64},{"t":1291,"v":67},{"t":1295,"v":60},{"t":1299,"v":68},{"t":1303,"v":63},{"t":1307,"v":70},{"t":1311,"v":65},{"t":1315,"v":61},{"t":1319,"v":68},{"t":1323,"v":64},{"t":1327,"v":70},{"t":1331,"v":62},{"t":1335,"v":66},{"t":1339,"v":59},{"t":1343,"v":67},{"t":1347,"v":63},{"t":1351,"v":60},{"t":1354,"v":20},{"t":1356,"v":0},
{"t":1435,"v":0},{"t":1438,"v":40},{"t":1441,"v":62},{"t":1445,"v":67},{"t":1449,"v":63},{"t":1453,"v":70},{"t":1457,"v":64},{"t":1461,"v":61},{"t":1465,"v":68},{"t":1469,"v":64},{"t":1473,"v":71},{"t":1477,"v":63},{"t":1481,"v":66},{"t":1485,"v":60},{"t":1489,"v":68},{"t":1493,"v":64},{"t":1497,"v":70},{"t":1501,"v":62},{"t":1505,"v":67},{"t":1509,"v":61},{"t":1513,"v":69},{"t":1517,"v":64},{"t":1521,"v":66},{"t":1525,"v":60},{"t":1529,"v":68},{"t":1533,"v":63},{"t":1537,"v":72},{"t":1541,"v":65},{"t":1545,"v":62},{"t":1549,"v":69},{"t":1553,"v":60},{"t":1557,"v":50},{"t":1560,"v":38},{"t":1563,"v":55},{"t":1567,"v":66},{"t":1571,"v":63},{"t":1575,"v":70},{"t":1579,"v":64},{"t":1583,"v":67},{"t":1587,"v":61},{"t":1591,"v":69},{"t":1595,"v":64},{"t":1599,"v":74},{"t":1603,"v":66},{"t":1607,"v":62},{"t":1611,"v":68},{"t":1615,"v":64},{"t":1619,"v":70},{"t":1623,"v":63},{"t":1627,"v":67},{"t":1631,"v":61},{"t":1635,"v":69},{"t":1639,"v":64},{"t":1643,"v":66},{"t":1647,"v":60},{"t":1651,"v":68},{"t":1655,"v":63},{"t":1659,"v":70},{"t":1663,"v":65},{"t":1667,"v":61},{"t":1671,"v":68},{"t":1675,"v":64},{"t":1679,"v":72},{"t":1683,"v":62},{"t":1687,"v":66},{"t":1691,"v":60},{"t":1695,"v":68},{"t":1699,"v":64},{"t":1703,"v":71},{"t":1707,"v":63},{"t":1711,"v":67},{"t":1715,"v":61},{"t":1719,"v":69},{"t":1723,"v":64},{"t":1727,"v":66},{"t":1731,"v":60},{"t":1735,"v":68},{"t":1739,"v":63},{"t":1743,"v":70},{"t":1747,"v":65},{"t":1751,"v":62},{"t":1755,"v":69},{"t":1759,"v":64},{"t":1763,"v":67},{"t":1767,"v":60},{"t":1771,"v":68},{"t":1775,"v":63},{"t":1779,"v":70},{"t":1783,"v":65},{"t":1787,"v":61},{"t":1791,"v":68},{"t":1795,"v":64},{"t":1798,"v":30},{"t":1800,"v":0},
{"t":1928,"v":0},{"t":1931,"v":50},{"t":1934,"v":64},{"t":1938,"v":68},{"t":1942,"v":62},{"t":1946,"v":70},{"t":1950,"v":64},{"t":1954,"v":60},{"t":1958,"v":45},{"t":1961,"v":24},{"t":1964,"v":45},{"t":1967,"v":62},{"t":1971,"v":67},{"t":1975,"v":63},{"t":1979,"v":69},{"t":1983,"v":64},{"t":1987,"v":60},{"t":1991,"v":67},{"t":1995,"v":50},{"t":1998,"v":55},{"t":2002,"v":65},{"t":2006,"v":62},{"t":2010,"v":69},{"t":2014,"v":64},{"t":2018,"v":66},{"t":2022,"v":60},{"t":2026,"v":68},{"t":2030,"v":63},{"t":2034,"v":70},{"t":2038,"v":65},{"t":2042,"v":61},{"t":2046,"v":68},{"t":2050,"v":64},{"t":2054,"v":70},{"t":2058,"v":62},{"t":2062,"v":66},{"t":2066,"v":60},{"t":2070,"v":68},{"t":2074,"v":64},{"t":2078,"v":71},{"t":2082,"v":63},{"t":2086,"v":67},{"t":2090,"v":61},{"t":2094,"v":69},{"t":2098,"v":64},{"t":2102,"v":66},{"t":2106,"v":60},{"t":2110,"v":68},{"t":2114,"v":63},{"t":2118,"v":70},{"t":2122,"v":65},{"t":2126,"v":62},{"t":2130,"v":69},{"t":2134,"v":64},{"t":2138,"v":67},{"t":2142,"v":60},{"t":2146,"v":68},{"t":2150,"v":63},{"t":2154,"v":70},{"t":2158,"v":65},{"t":2162,"v":61},{"t":2166,"v":68},{"t":2170,"v":64},{"t":2174,"v":70},{"t":2178,"v":62},{"t":2182,"v":66},{"t":2186,"v":60},{"t":2190,"v":68},{"t":2194,"v":64},{"t":2198,"v":71},{"t":2202,"v":63},{"t":2206,"v":67},{"t":2210,"v":61},{"t":2214,"v":69},{"t":2218,"v":64},{"t":2222,"v":66},{"t":2226,"v":60},{"t":2230,"v":68},{"t":2234,"v":63},{"t":2238,"v":70},{"t":2242,"v":65},{"t":2246,"v":62},{"t":2250,"v":69},{"t":2254,"v":64},{"t":2258,"v":67},{"t":2262,"v":60},{"t":2265,"v":25},{"t":2267,"v":0},
{"t":2400,"v":0},{"t":2403,"v":55},{"t":2406,"v":64},{"t":2410,"v":68},{"t":2414,"v":62},{"t":2418,"v":70},{"t":2422,"v":64},{"t":2426,"v":60},{"t":2430,"v":52},{"t":2434,"v":38},{"t":2437,"v":40},{"t":2440,"v":60},{"t":2444,"v":67},{"t":2448,"v":63},{"t":2452,"v":70},{"t":2456,"v":64},{"t":2460,"v":66},{"t":2464,"v":60},{"t":2468,"v":55},{"t":2472,"v":42},{"t":2476,"v":50},{"t":2480,"v":65},{"t":2484,"v":70},{"t":2488,"v":63},{"t":2492,"v":67},{"t":2496,"v":61},{"t":2500,"v":69},{"t":2504,"v":64},{"t":2508,"v":72},{"t":2512,"v":60},{"t":2516,"v":48},{"t":2520,"v":58},{"t":2524,"v":66},{"t":2528,"v":70},{"t":2532,"v":63},{"t":2536,"v":67},{"t":2540,"v":61},{"t":2544,"v":69},{"t":2548,"v":64},{"t":2552,"v":66},{"t":2556,"v":58},{"t":2560,"v":55},{"t":2564,"v":44},{"t":2568,"v":43},{"t":2572,"v":56},{"t":2576,"v":66},{"t":2580,"v":70},{"t":2584,"v":63},{"t":2588,"v":67},{"t":2592,"v":61},{"t":2596,"v":69},{"t":2600,"v":64},{"t":2604,"v":72},{"t":2608,"v":65},{"t":2612,"v":62},{"t":2616,"v":69},{"t":2620,"v":64},{"t":2624,"v":67},{"t":2628,"v":60},{"t":2632,"v":68},{"t":2636,"v":63},{"t":2640,"v":70},{"t":2644,"v":65},{"t":2648,"v":61},{"t":2652,"v":68},{"t":2656,"v":64},{"t":2660,"v":70},{"t":2664,"v":62},{"t":2668,"v":66},{"t":2672,"v":60},{"t":2676,"v":68},{"t":2680,"v":64},{"t":2684,"v":71},{"t":2687,"v":55},{"t":2690,"v":37},{"t":2693,"v":60},{"t":2696,"v":63},{"t":2700,"v":72},{"t":2704,"v":66},{"t":2708,"v":69},{"t":2712,"v":62},{"t":2716,"v":70},{"t":2720,"v":64},{"t":2724,"v":68},{"t":2728,"v":61},{"t":2732,"v":69},{"t":2736,"v":64},{"t":2740,"v":70},{"t":2744,"v":60},{"t":2748,"v":65},{"t":2750,"v":30},{"t":2752,"v":0},
{"t":2876,"v":0},{"t":2881,"v":70.7},{"t":2887,"v":66},{"t":2893,"v":37.6},{"t":2898,"v":66},{"t":2903,"v":64},{"t":2909,"v":67.5},{"t":2914,"v":72.5},{"t":2919,"v":66},{"t":2923,"v":69},{"t":2929,"v":75},{"t":2935,"v":61},{"t":2941,"v":69},{"t":2945,"v":65},{"t":2949,"v":63},{"t":2956,"v":73.4},{"t":2960,"v":58},{"t":2967,"v":70.7},{"t":2974,"v":73},{"t":2981,"v":67},{"t":2985,"v":64},{"t":2989,"v":71.6},{"t":2996,"v":65.3},{"t":3002,"v":42},{"t":3007,"v":61},{"t":3016,"v":74.4},{"t":3020,"v":66},{"t":3024,"v":63.5},{"t":3028,"v":69},{"t":3032,"v":68},{"t":3038,"v":49},{"t":3047,"v":35.8},{"t":3054,"v":45.6},{"t":3062,"v":52.8},{"t":3069,"v":4.3},{"t":3074,"v":52.8},{"t":3082,"v":56.8},{"t":3088,"v":14.5},{"t":3095,"v":58.6},{"t":3102,"v":50},{"t":3107,"v":38.5},{"t":3114,"v":55.5},{"t":3120,"v":49},{"t":3127,"v":18},{"t":3133,"v":56.8},{"t":3140,"v":55.5},{"t":3149,"v":44.7},{"t":3156,"v":52.8},{"t":3166,"v":58.6},{"t":3172,"v":55.5},{"t":3179,"v":45.6},{"t":3184,"v":2.5},{"t":3193,"v":3.4},{"t":3201,"v":2.5},{"t":3209,"v":4.3},{"t":3214,"v":30},{"t":3219,"v":52.8},{"t":3223,"v":0},
{"t":3375,"v":0},{"t":3383,"v":3},{"t":3388,"v":54.6},{"t":3393,"v":65},{"t":3400,"v":68},{"t":3404,"v":72.5},{"t":3409,"v":62},{"t":3415,"v":57},{"t":3420,"v":70.7},{"t":3424,"v":62.7},{"t":3429,"v":68},{"t":3434,"v":62},{"t":3440,"v":70},{"t":3446,"v":66},{"t":3451,"v":74.6},{"t":3456,"v":69},{"t":3462,"v":66},{"t":3466,"v":5.6},{"t":3473,"v":11},{"t":3480,"v":54.6},{"t":3485,"v":53.7},{"t":3490,"v":16.3},{"t":3494,"v":19},{"t":3500,"v":23.4},{"t":3507,"v":29.6},{"t":3513,"v":22.5},{"t":3520,"v":24.3},{"t":3526,"v":3.5},{"t":3542,"v":1.8},{"t":3557,"v":2.6},{"t":3568,"v":0.9},{"t":3586,"v":2.6},{"t":3608,"v":2.6},{"t":3629,"v":3},{"t":3648,"v":4.3},{"t":3662,"v":6.5},{"t":3669,"v":2},{"t":3680,"v":3.4},{"t":3699,"v":2.6},{"t":3702,"v":14.5},{"t":3706,"v":40.4},{"t":3711,"v":50}
]
}
}
